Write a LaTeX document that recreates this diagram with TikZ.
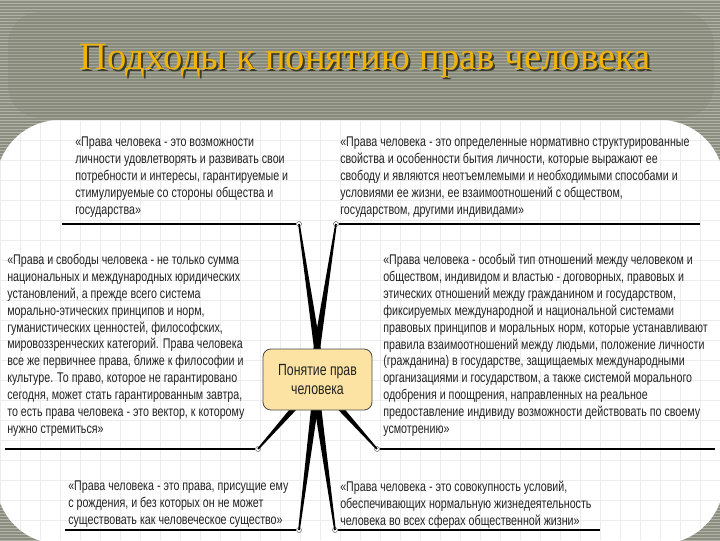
\documentclass[tikz,border=0pt]{standalone}
\usepackage{fontspec}
\usetikzlibrary{calc}
\setmainfont{Liberation Sans}
\newfontfamily\quotefont[FakeStretch=0.76]{Liberation Sans}
\newfontfamily\titlefont{Liberation Serif}
\newcommand{\quotetext}{\quotefont\fontsize{10}{12}\selectfont}

\definecolor{bggray}{HTML}{8C8E80}
\definecolor{stripe}{HTML}{B2B3A8}
\definecolor{titlegold}{HTML}{F2B400}
\definecolor{titleshadow}{HTML}{3C3A28}
\definecolor{conceptfill}{HTML}{FCE3A4}
\definecolor{gridline}{HTML}{ECECEC}
\definecolor{quotegray}{HTML}{222222}

% tapered branch from a hub point to an end point
\newcommand{\branch}[2]{\fill[black] ($(#1)!2.8pt!90:(#2.center)$) -- ($(#1)!2.8pt!-90:(#2.center)$) -- ($(#2.center)!0.6pt!90:(#1)$) -- ($(#2.center)!0.6pt!-90:(#1)$) -- cycle;}

\begin{document}
\begin{tikzpicture}[x=0.025cm, y=-0.025cm,
  quote/.style={anchor=north west, inner sep=0pt, align=left, font=\quotetext, text=quotegray},
  endpt/.style={circle, draw=gray!80!black, fill=white, line width=0.4pt, inner sep=0pt, minimum size=3.5pt},
  underline/.style={line width=0.8pt}]

\useasboundingbox (0,0) rectangle (720,540);

% Background with stripes
\fill[bggray] (0,0) rectangle (720,540);
\foreach \y in {0,3,...,540}
  \draw[stripe, line width=0.35pt] (0,\y) -- (720,\y);
\fill[bggray!90!black, opacity=0.25, rounded corners=0.8cm] (8,12) rectangle (714,118);

% White panel with faint grid
\begin{scope}
\clip[rounded corners=1.6cm] (-4,120) rectangle (724,544);
\fill[white] (-4,120) rectangle (724,544);
\draw[gridline, line width=0.4pt] (0,120) grid[step=0.5cm] (720,540);
\end{scope}

% Title
\node (title_shadow) [font=\titlefont\fontsize{27.5}{30}\selectfont, text=titleshadow] at (367,63) {Подходы к понятию прав человека};
\node (title) [font=\titlefont\fontsize{27.5}{30}\selectfont, text=titlegold] at (365,61) {Подходы к понятию прав человека};

% End points of the branches
\node (e1) [endpt] at (299,224) {};
\node (e2) [endpt] at (336,224) {};
\node (e3) [endpt] at (258,449) {};
\node (e4) [endpt] at (377,449) {};
\node (e5) [endpt] at (299,530) {};
\node (e6) [endpt] at (335,530) {};

% Hub points behind the central node
\coordinate (hub1) at (322,380);
\coordinate (hub2) at (312,380);
\coordinate (hub3) at (319,380);
\coordinate (hub4) at (315,380);
\coordinate (hub5) at (318,380);
\coordinate (hub6) at (314,380);

% Branches
\branch{hub1}{e1}
\branch{hub2}{e2}
\branch{hub3}{e3}
\branch{hub4}{e4}
\branch{hub5}{e5}
\branch{hub6}{e6}

% Central node
\node (concept) [rectangle, rounded corners=0.2cm, draw=gray!60!black, line width=0.6pt, fill=conceptfill, minimum width=2.725cm, minimum height=1.525cm, align=center, font=\quotefont\fontsize{11.5}{14}\selectfont, text=quotegray] at (317.5,379.5) {Понятие прав\\человека};

% Quotes
\node (q1) [quote] at (75,137) {«Права человека - это возможности\\
личности удовлетворять и развивать свои\\
потребности и интересы, гарантируемые и\\
стимулируемые со стороны общества и\\
государства»};

\node (q2) [quote] at (340,137) {«Права человека - это определенные нормативно структурированные\\
свойства и особенности бытия личности, которые выражают ее\\
свободу и являются неотъемлемыми и необходимыми способами и\\
условиями ее жизни, ее взаимоотношений с обществом,\\
государством, другими индивидами»};

\node (q3) [quote] at (7,254) {«Права и свободы человека - не только сумма\\
национальных и международных юридических\\
установлений, а прежде всего система\\
морально-этических принципов и норм,\\
гуманистических ценностей, философских,\\
мировоззренческих категорий. Права человека\\
все же первичнее права, ближе к философии и\\
культуре. То право, которое не гарантировано\\
сегодня, может стать гарантированным завтра,\\
то есть права человека - это вектор, к которому\\
нужно стремиться»};

\node (q4) [quote] at (383,254) {«Права человека - особый тип отношений между человеком и\\
обществом, индивидом и властью - договорных, правовых и\\
этических отношений между гражданином и государством,\\
фиксируемых международной и национальной системами\\
правовых принципов и моральных норм, которые устанавливают\\
правила взаимоотношений между людьми, положение личности\\
(гражданина) в государстве, защищаемых международными\\
организациями и государством, а также системой морального\\
одобрения и поощрения, направленных на реальное\\
предоставление индивиду возможности действовать по своему\\
усмотрению»};

\node (q5) [quote] at (68,481) {«Права человека - это права, присущие ему\\
с рождения, и без которых он не может\\
существовать как человеческое существо»};

\node (q6) [quote] at (340,481) {«Права человека - это совокупность условий,\\
обеспечивающих нормальную жизнедеятельность\\
человека во всех сферах общественной жизни»};

% Underlines
\coordinate (u1) at (62,224);
\coordinate (u2) at (700,224);
\coordinate (u3) at (5,449);
\coordinate (u4) at (715,449);
\coordinate (u5) at (65,530);
\coordinate (u6) at (600,530);
\draw[underline] (u1) -- (e1);
\draw[underline] (e2) -- (u2);
\draw[underline] (u3) -- (e3);
\draw[underline] (e4) -- (u4);
\draw[underline] (u5) -- (e5);
\draw[underline] (e6) -- (u6);

\end{tikzpicture}
\end{document}
